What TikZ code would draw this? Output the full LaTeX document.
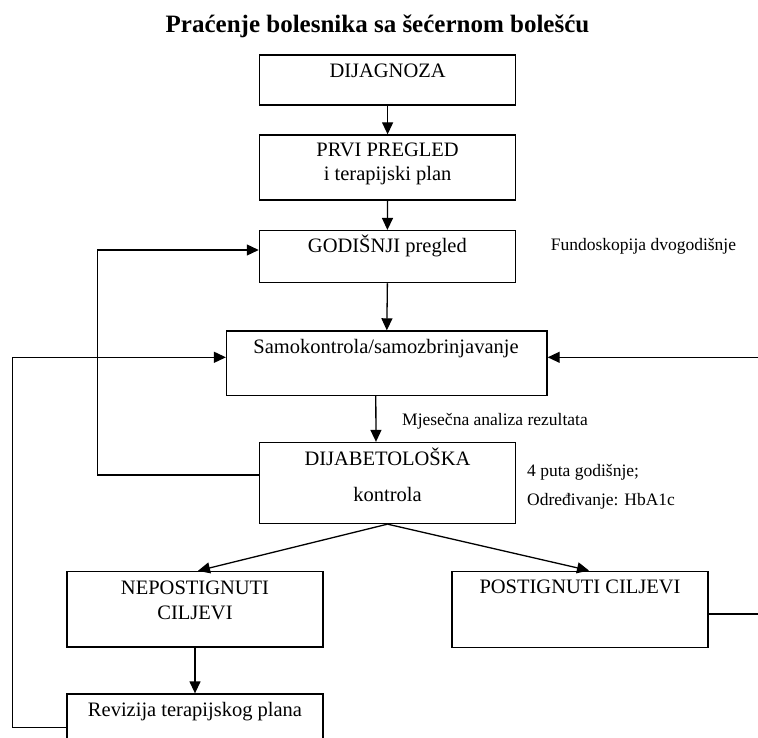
\documentclass[tikz,border=0pt]{standalone}
\usepackage{fontspec}
\setmainfont{Liberation Serif}
\usetikzlibrary{arrows.meta}
\begin{document}
\begin{tikzpicture}[x=1pt,y=-1pt,
  box/.style={draw, line width=1.3pt, minimum width=256pt, inner sep=0pt},
  lbl/.style={font=\fontsize{20.5}{24}\selectfont, inner sep=0pt, anchor=center, text height=0.68em, text depth=0pt},
  note/.style={font=\fontsize{17.5}{21}\selectfont, inner sep=0pt, text height=0.68em, text depth=0pt},
  conn/.style={line width=1.3pt},
  arr/.style={conn, -{Triangle[length=12pt,width=11pt]}}]
\useasboundingbox (0,0) rectangle (758,738);
\clip (0,0) rectangle (758,738);
% title
\node[font=\fontsize{25}{30}\selectfont\bfseries, inner sep=0pt, text height=0.68em, text depth=0pt] (title) at (377.5,29) {Praćenje bolesnika sa šećernom bolešću};
% boxes
\node[box, minimum height=50pt] (dij) at (387.6,80) {};
\node[box, minimum height=65pt] (prvi) at (387.6,167.5) {};
\node[box, minimum height=52pt] (god) at (387.4,256.6) {};
\node[box, minimum width=320.5pt, minimum height=64.5pt] (samo) at (386.8,363.2) {};
\node[box, minimum height=81pt] (dijab) at (387.5,483) {};
\node[box, minimum height=75.5pt] (nepo) at (195,609.2) {};
\node[box, minimum height=76pt] (posti) at (580,609.2) {};
\node[box, minimum height=66pt] (rev) at (195,727) {};
% box texts
\node[lbl] (tdij) at (387.6,74) {DIJAGNOZA};
\node[lbl] (tprvi1) at (387.6,153) {PRVI PREGLED};
\node[lbl] (tprvi2) at (387.6,177) {i terapijski plan};
\node[lbl] (tgod) at (387.4,249) {GODIŠNJI pregled};
\node[lbl] (tsamo) at (386,350) {Samokontrola/samozbrinjavanje};
\node[lbl] (tdijab1) at (387.5,462) {DIJABETOLOŠKA};
\node[lbl] (tdijab2) at (387.5,498) {kontrola};
\node[lbl] (tnepo1) at (195,591) {NEPOSTIGNUTI};
\node[lbl] (tnepo2) at (195,616) {CILJEVI};
\node[lbl] (tposti) at (580,590) {POSTIGNUTI CILJEVI};
\node[lbl] (trev) at (195,713) {Revizija terapijskog plana};
% side notes
\node[note, anchor=center] (fundo) at (643.5,247) {Fundoskopija dvogodišnje};
\node[note, anchor=center] (mjes) at (495,422) {Mjesečna analiza rezultata};
\node[note, anchor=west] (puta) at (527,473) {4 puta godišnje;};
\node[note, anchor=west] (odr) at (527,502) {Određivanje: HbA1c};
% helper coordinates
\coordinate (lx1) at (97.7,0);
\coordinate (lx2) at (12.3,0);
\coordinate (rin) at (762,357.3);
\coordinate (rout) at (762,614);
% connectors
\draw[arr] (dij.south) -- (prvi.north);
\draw[arr] (prvi.south) -- (god.north);
\draw[arr] (god.south) -- (samo.north);
\draw[arr] ([xshift=-11pt]samo.south) -- ([xshift=-11.5pt]dijab.north);
\draw[arr] (dijab.south) -- ([xshift=3pt]nepo.north);
\draw[arr] (dijab.south) -- ([xshift=9pt]posti.north);
\draw[arr] (nepo.south) -- (rev.north);
\draw[arr] ([yshift=8pt]dijab.west) -- ([yshift=8pt]dijab.west -| lx1) |- ([yshift=6.6pt]god.west);
\draw[arr] ([yshift=-0.3pt]rev.west) -- ([yshift=-0.3pt]rev.west -| lx2) |- ([yshift=5.9pt]samo.west);
\draw[arr] (rin) -- ([yshift=5.9pt]samo.east);
\draw[conn] ([yshift=-4.8pt]posti.east) -- (rout);
\end{tikzpicture}
\end{document}
